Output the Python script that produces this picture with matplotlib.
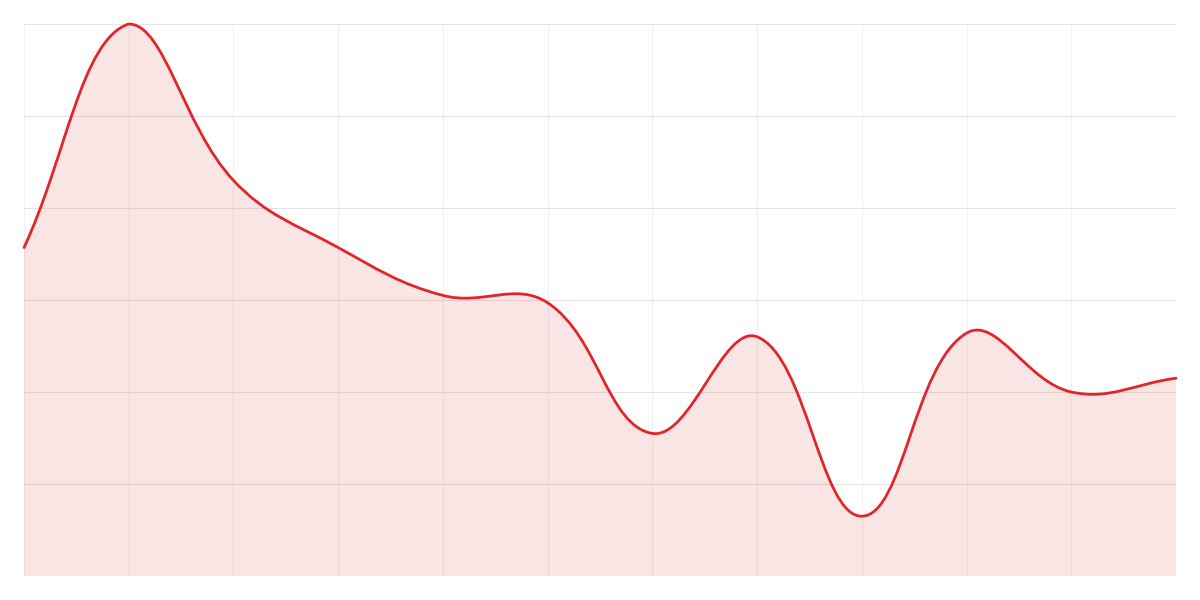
import numpy as np
import matplotlib
matplotlib.use("Agg")
import matplotlib.pyplot as plt
from matplotlib.path import Path
from matplotlib.patches import PathPatch

categories = list(range(12))
values = [35.7, 60.0, 43.0, 35.7, 30.5, 29.7, 15.5, 26.0, 6.5, 26.4, 20.0, 21.5]

fig = plt.figure(figsize=(12, 6), dpi=100)
ax = fig.add_axes([0.02, 0.04, 0.96, 0.92])
ymin, ymax = 0, 60
ax.set_xlim(0, len(categories) - 1)
ax.set_ylim(ymin, ymax)

px_x = 1152 / (len(categories) - 1)
px_y = 552 / 60.0

xs = np.array(categories, dtype=float)
ys = np.array(values, dtype=float)
P = np.column_stack([xs * px_x, ys * px_y])
t = 0.4
n = len(P)
cp_prev = P.copy()
cp_next = P.copy()
for i in range(n):
    prev = P[i - 1] if i > 0 else P[i]
    nxt = P[i + 1] if i < n - 1 else P[i]
    d01 = np.hypot(*(P[i] - prev))
    d12 = np.hypot(*(nxt - P[i]))
    tot = d01 + d12
    s01 = d01 / tot if tot else 0
    s12 = d12 / tot if tot else 0
    cp_prev[i] = P[i] - t * s01 * (nxt - prev)
    cp_next[i] = P[i] + t * s12 * (nxt - prev)

def to_data(p):
    x = min(max(p[0] / px_x, xs[0]), xs[-1])
    y = min(max(p[1] / px_y, ymin), ymax)
    return (x, y)

verts = [to_data(P[0])]
codes = [Path.MOVETO]
for i in range(n - 1):
    verts += [to_data(cp_next[i]), to_data(cp_prev[i + 1]), to_data(P[i + 1])]
    codes += [Path.CURVE4] * 3

line_path = Path(verts, codes)
fill_verts = verts + [(xs[-1], 0), (xs[0], 0), verts[0]]
fill_codes = codes + [Path.LINETO, Path.LINETO, Path.CLOSEPOLY]
fill_path = Path(fill_verts, fill_codes)

ax.add_patch(PathPatch(fill_path, facecolor="#dc2f2f", alpha=0.12, edgecolor="none", zorder=1))
ax.add_patch(PathPatch(line_path, facecolor="none", edgecolor="#e0262b", linewidth=2.0, zorder=3,
                       capstyle="round", clip_on=False))

for x in xs:
    ax.axvline(x, color="#f0f0f0", linewidth=0.8, zorder=0)
for y in np.arange(0, 61, 10):
    ax.axhline(y, color="#e5e5e5", linewidth=0.8, zorder=0)

ax.set_xticks([])
ax.set_yticks([])
for s in ax.spines.values():
    s.set_visible(False)

fig.savefig("out.png", dpi=100)
